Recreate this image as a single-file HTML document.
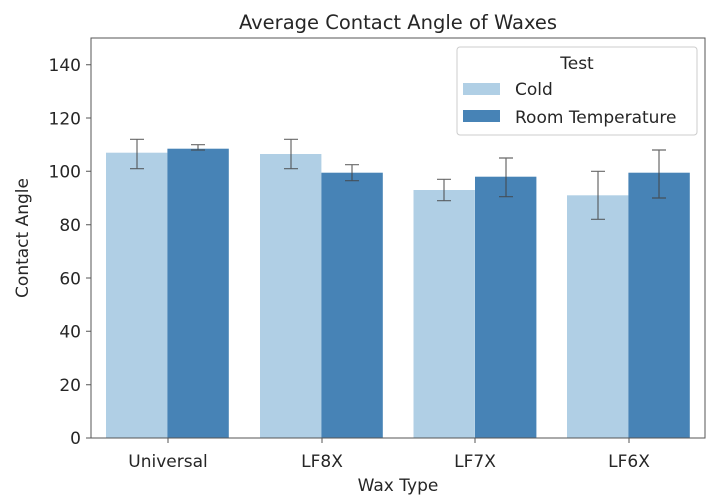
<!DOCTYPE html><html><head><style>body{margin:0;background:#fff}svg text{font-family:"DejaVu Sans","Liberation Sans",sans-serif;fill:#262626}</style></head><body>
<svg width="721" height="499" xmlns="http://www.w3.org/2000/svg">
<text x="398" y="29" font-size="19.5" text-anchor="middle">Average Contact Angle of Waxes</text>
<g fill="#b0cfe5">
<rect x="106" y="152.7" width="61.4" height="285.3"/>
<rect x="260" y="154" width="61.4" height="284"/>
<rect x="413.5" y="190" width="61.4" height="248"/>
<rect x="567" y="195.3" width="61.4" height="242.7"/>
</g>
<g fill="#4783b6">
<rect x="167.4" y="148.7" width="61.4" height="289.3"/>
<rect x="321.4" y="172.7" width="61.4" height="265.3"/>
<rect x="475" y="176.7" width="61.4" height="261.3"/>
<rect x="628.4" y="172.7" width="61.4" height="265.3"/>
</g>
<g stroke="#444" stroke-width="1.2" opacity="0.8">
<path d="M137 168.7V139.3M130 168.7h14M130 139.3h14"/>
<path d="M198 150V144.7M191 150h14M191 144.7h14"/>
<path d="M291 168.7V139.3M284 168.7h14M284 139.3h14"/>
<path d="M352 180.7V164.7M345 180.7h14M345 164.7h14"/>
<path d="M444 200.7V179.3M437 200.7h14M437 179.3h14"/>
<path d="M506 196.7V158M499 196.7h14M499 158h14"/>
<path d="M598 219.3V171.3M591 219.3h14M591 171.3h14"/>
<path d="M659 198V150M652 198h14M652 150h14"/>
</g>
<rect x="91" y="38" width="614" height="400" fill="none" stroke="#555" stroke-width="1"/>
<g font-size="17" text-anchor="end">
<text x="81" y="444">0</text><text x="81" y="391">20</text><text x="81" y="337.6">40</text><text x="81" y="284.3">60</text><text x="81" y="231">80</text><text x="81" y="177.7">100</text><text x="81" y="124.4">120</text><text x="81" y="71">140</text>
</g>
<g stroke="#555"><path d="M86 438h5M86 384.7h5M86 331.3h5M86 278h5M86 224.7h5M86 171.3h5M86 118h5M86 64.7h5M168 438v5M322 438v5M475 438v5M629 438v5"/></g>
<g font-size="17" text-anchor="middle">
<text x="168" y="467">Universal</text><text x="322" y="467">LF8X</text><text x="475" y="467">LF7X</text><text x="629" y="467">LF6X</text>
<text x="398" y="491">Wax Type</text>
<text transform="translate(28 238) rotate(-90)">Contact Angle</text>
</g>
<rect x="457" y="47" width="240" height="88" rx="3" fill="#fff" fill-opacity="0.85" stroke="#ccc"/>
<text x="577" y="69" font-size="17" text-anchor="middle">Test</text>
<rect x="463" y="83" width="37" height="12" fill="#b0cfe5"/>
<rect x="463" y="110" width="37" height="12" fill="#4783b6"/>
<text x="515" y="95" font-size="17">Cold</text>
<text x="515" y="123" font-size="17">Room Temperature</text>
</svg></body></html>
